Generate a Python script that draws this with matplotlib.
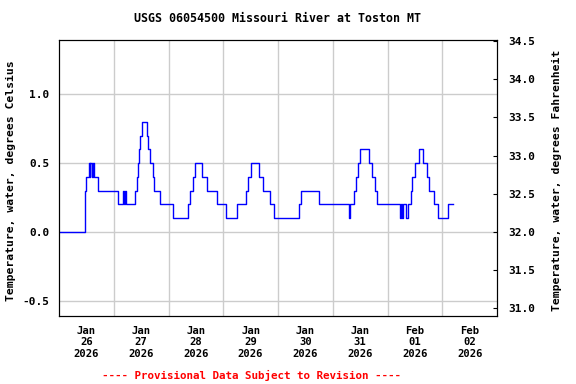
import matplotlib
matplotlib.use("Agg")
import matplotlib.pyplot as plt
from matplotlib import dates as mpl_dates
from matplotlib.ticker import FixedLocator, FormatStrFormatter
import pandas as pd

plt.rcParams["font.family"] = ["DejaVu Sans Mono"]
plt.rcParams["font.weight"] = "bold"
plt.rcParams["axes.labelweight"] = "bold"
plt.rcParams["axes.unicode_minus"] = False

# step change points: hours after 2026-01-26 00:00, water temperature (deg C)
hours = [0, 11.25, 11.5, 12.0, 13.0, 13.5, 13.75, 14.25, 15.0, 15.5, 17.25,
         25.75, 28.0, 28.5, 29.0, 29.25, 33.4, 34.0, 34.5, 34.9, 35.3, 36.6,
         38.5, 39.2, 40.0, 41.0, 41.8, 44.4, 50.1, 56.6, 57.6, 58.6, 59.4,
         62.5, 65.0, 69.3, 73.4, 78.0, 81.8, 83.0, 84.0, 87.6, 89.5, 92.3,
         94.2, 105.1, 106.0, 113.8, 127.25, 127.75, 129.25, 130.25, 131.0,
         132.0, 136.1, 137.3, 138.5, 139.6, 149.5, 150.0, 150.25, 151.0,
         152.25, 153.0, 154.1, 154.8, 155.9, 157.8, 159.6, 161.2, 162.4,
         164.4, 166.2, 170.7, 172.6]
temps_c = [0.0, 0.2, 0.3, 0.4, 0.5, 0.4, 0.5, 0.4, 0.5, 0.4, 0.3,
           0.2, 0.3, 0.2, 0.3, 0.2, 0.3, 0.4, 0.5, 0.6, 0.7, 0.8,
           0.7, 0.6, 0.5, 0.4, 0.3, 0.2, 0.1, 0.2, 0.3, 0.4, 0.5,
           0.4, 0.3, 0.2, 0.1, 0.2, 0.3, 0.4, 0.5, 0.4, 0.3, 0.2,
           0.1, 0.2, 0.3, 0.2, 0.1, 0.2, 0.3, 0.4, 0.5,
           0.6, 0.5, 0.4, 0.3, 0.2, 0.1, 0.2, 0.1, 0.2,
           0.1, 0.2, 0.3, 0.4, 0.5, 0.6, 0.5, 0.4, 0.3,
           0.2, 0.1, 0.2, 0.2]

day_labels = ["Jan\n26\n2026", "Jan\n27\n2026", "Jan\n28\n2026", "Jan\n29\n2026",
              "Jan\n30\n2026", "Jan\n31\n2026", "Feb\n01\n2026", "Feb\n02\n2026"]
left_ticks = [-0.5, 0.0, 0.5, 1.0]
right_ticks = [31.0, 31.5, 32.0, 32.5, 33.0, 33.5, 34.0, 34.5]

start = pd.Timestamp("2026-01-26")
times = start + pd.to_timedelta(hours, unit="h")

fig = plt.figure(figsize=(5.76, 3.84), dpi=100)
ax = fig.add_axes([59 / 576, 1 - 316 / 384, 438 / 576, 276 / 384])

ax.plot(times, temps_c, drawstyle="steps-post", color="#0000ff", linewidth=1.0)

ax.set_xlim(start, start + pd.Timedelta(days=8))
ylo, yhi = -0.611, 1.396
ax.set_ylim(ylo, yhi)

# gridlines at midnight, day labels centred at noon
midnights = [start + pd.Timedelta(days=i) for i in range(1, 8)]
noons = [start + pd.Timedelta(days=i, hours=12) for i in range(8)]
ax.xaxis.set_major_locator(FixedLocator(mpl_dates.date2num(midnights)))
ax.xaxis.set_major_formatter(plt.NullFormatter())
ax.xaxis.set_minor_locator(FixedLocator(mpl_dates.date2num(noons)))
ax.xaxis.set_minor_formatter(plt.FixedFormatter(day_labels))
ax.tick_params(axis="x", which="both", length=0, labelsize=7.6, pad=7)
for lab in ax.xaxis.get_minorticklabels():
    lab.set_linespacing(1.2)
    lab.set_fontweight("bold")

ax.set_yticks(left_ticks)
ax.yaxis.set_major_formatter(FormatStrFormatter("%.1f"))
ax.tick_params(axis="y", length=0, labelsize=8, pad=7)
for lab in ax.get_yticklabels():
    lab.set_fontweight("bold")
ax.grid(True, which="major", color="#cccccc", linewidth=1.0)
ax.set_axisbelow(True)
ax.set_ylabel("Temperature, water, degrees Celsius", fontsize=8.2, fontweight="bold")
ax.yaxis.set_label_coords(-0.099, 0.49)

ax2 = ax.twinx()
ax2.set_ylim(ylo * 1.8 + 32, yhi * 1.8 + 32)
ax2.set_yticks(right_ticks)
ax2.yaxis.set_major_formatter(FormatStrFormatter("%.1f"))
ax2.tick_params(axis="y", direction="in", length=3, labelsize=8, pad=8)
for lab in ax2.get_yticklabels():
    lab.set_fontweight("bold")
ax2.set_ylabel("Temperature, water, degrees Fahrenheit", fontsize=8.2, fontweight="bold")
ax2.yaxis.set_label_coords(1.126, 0.49)

fig.text(277 / 576, 1 - 19 / 384, "USGS 06054500 Missouri River at Toston MT",
         ha="center", va="center", fontsize=8.4, fontweight="bold")
fig.text(251.5 / 576, 1 - 375 / 384, "---- Provisional Data Subject to Revision ----",
         ha="center", va="center", fontsize=7.8, color="red", fontweight="bold")

fig.savefig("out.png", dpi=100)
